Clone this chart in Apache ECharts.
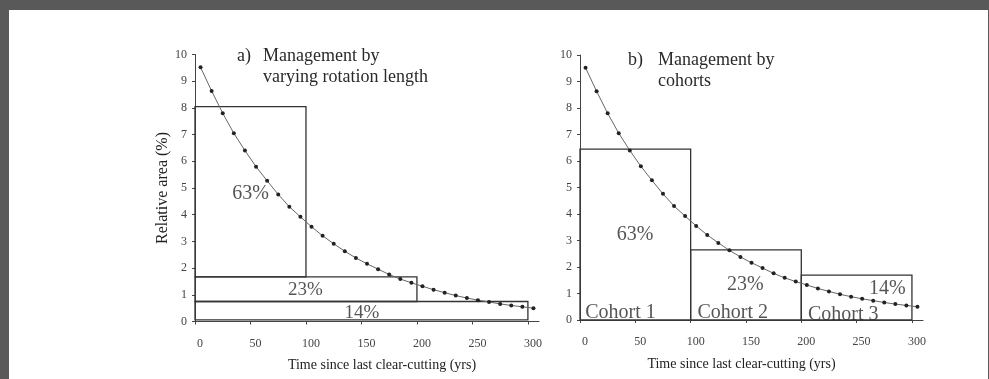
<!DOCTYPE html>
<html>
<head>
<meta charset="utf-8">
<script src="https://cdn.jsdelivr.net/npm/echarts@6/dist/echarts.min.js"></script>
<style>
  html, body { margin: 0; padding: 0; background: #595959; }
  #chart { position: absolute; left: 9px; top: 10px; width: 979px; height: 369px; background: #fff; }
</style>
</head>
<body>
<div id="chart"></div>
<script>
// stand age classes (midpoints, yrs) and relative area (%)
const years = [5, 15, 25, 35, 45, 55, 65, 75, 85, 95, 105, 115, 125, 135, 145, 155,
  165, 175, 185, 195, 205, 215, 225, 235, 245, 255, 265, 275, 285, 295, 305]
const relArea = [9.52, 8.63, 7.8, 7.05, 6.4, 5.8, 5.27, 4.76, 4.3, 3.92, 3.55, 3.21,
  2.91, 2.63, 2.38, 2.16, 1.96, 1.76, 1.59, 1.45, 1.32, 1.19, 1.08, 0.97, 0.88,
  0.8, 0.73, 0.66, 0.6, 0.55, 0.5]

const xTicks = [0, 50, 100, 150, 200, 250, 300]

// boxes: [x0, x1, y0, y1]
const rotationBoxes = [[0, 100, 1.67, 8.05], [0, 200, 0.75, 1.67], [0, 300, 0.06, 0.75]]
const cohortBoxes = [[0, 100, 0, 6.45], [100, 200, 0, 2.65], [200, 300, 0, 1.69]]

// text annotations: [x, y, text]
const rotationLabels = [[50, 4.8, "63%"], [99.5, 1.17, "23%"], [150.5, 0.33, "14%"]]
const cohortPctLabels = [[49.7, 3.2, "63%"], [149.5, 1.34, "23%"], [277.8, 1.18, "14%"]]
const cohortNames = [[36.6, 0.29, "Cohort 1"], [138, 0.29, "Cohort 2"], [237.9, 0.21, "Cohort 3"]]

const FONT = "Liberation Serif"
const chart = echarts.init(document.getElementById("chart"))

const curve = years.map((y, i) => [y, relArea[i]])

function xAxisFor(gridIndex, padding) {
  return {
    type: "value", gridIndex, min: 0, max: 310, interval: 50,
    name: "Time since last clear-cutting (yrs)",
    nameLocation: "middle", nameGap: 37,
    nameTextStyle: { fontFamily: FONT, fontSize: 14, color: "#222", padding },
    axisLine: { lineStyle: { color: "#444", width: 1 } },
    axisTick: { length: 3, customValues: xTicks, lineStyle: { color: "#444" } },
    axisLabel: {
      customValues: xTicks, margin: 16, fontFamily: FONT, fontSize: 12, color: "#444",
      padding: [0, 0, 0, 10],
    },
    splitLine: { show: false },
  }
}

function yAxisFor(gridIndex, name) {
  return {
    type: "value", gridIndex, min: 0, max: 10, interval: 1,
    name, nameLocation: "middle", nameGap: 24,
    nameTextStyle: { fontFamily: FONT, fontSize: 16, color: "#222" },
    axisLine: { show: true, lineStyle: { color: "#444", width: 1 } },
    axisTick: { show: true, length: 3, lineStyle: { color: "#444" } },
    axisLabel: { margin: 8, fontFamily: FONT, fontSize: 12, color: "#444" },
    splitLine: { show: false },
  }
}

function boxSeries(idx, data) {
  return {
    type: "custom", xAxisIndex: idx, yAxisIndex: idx, silent: true,
    data, encode: { x: [0, 1], y: [2, 3] },
    renderItem: (params, api) => {
      const p0 = api.coord([api.value(0), api.value(3)])
      const p1 = api.coord([api.value(1), api.value(2)])
      return {
        type: "rect",
        shape: { x: p0[0], y: p0[1], width: p1[0] - p0[0], height: p1[1] - p0[1] },
        style: { fill: "none", stroke: "#333", lineWidth: 1.3 },
      }
    },
  }
}

function curveSeries(idx) {
  return {
    type: "line", xAxisIndex: idx, yAxisIndex: idx, data: curve, silent: true,
    symbol: "circle", symbolSize: 4, showSymbol: true,
    itemStyle: { color: "#222" },
    lineStyle: { color: "#666", width: 1 },
  }
}

function textSeries(idx, data, fontSize) {
  return {
    type: "scatter", xAxisIndex: idx, yAxisIndex: idx, silent: true,
    data, symbolSize: 1, itemStyle: { color: "rgba(0,0,0,0)" },
    label: {
      show: true, position: "inside", formatter: (p) => p.data[2],
      fontFamily: FONT, fontSize, color: "#2a2a2a",
    },
  }
}

const titleStyle = { fontFamily: FONT, fontSize: 18, fontWeight: "normal", color: "#2a2a2a", lineHeight: 21 }

const option = {
  animation: false,
  textStyle: { fontFamily: FONT },
  title: [
    { text: "a)", left: 228, top: 36, padding: 0, textStyle: titleStyle },
    { text: "Management by\nvarying rotation length", left: 254, top: 36, padding: 0, textStyle: titleStyle },
    { text: "b)", left: 619, top: 40, padding: 0, textStyle: titleStyle },
    { text: "Management by\ncohorts", left: 649, top: 40, padding: 0, textStyle: titleStyle },
  ],
  grid: [
    { left: 186, top: 44.5, width: 344, height: 267 },
    { left: 571, top: 45, width: 343, height: 265 },
  ],
  xAxis: [xAxisFor(0, [0, 0, 0, 30]), xAxisFor(1, [0, 20, 0, 0])],
  yAxis: [yAxisFor(0, "Relative area (%)"), yAxisFor(1, "")],
  series: [
    boxSeries(0, rotationBoxes),
    curveSeries(0),
    textSeries(0, rotationLabels.slice(0, 1), 20),
    textSeries(0, rotationLabels.slice(1), 19),
    boxSeries(1, cohortBoxes),
    curveSeries(1),
    textSeries(1, cohortPctLabels, 20),
    textSeries(1, cohortNames, 20),
  ],
}

chart.setOption(option)
</script>
</body>
</html>
